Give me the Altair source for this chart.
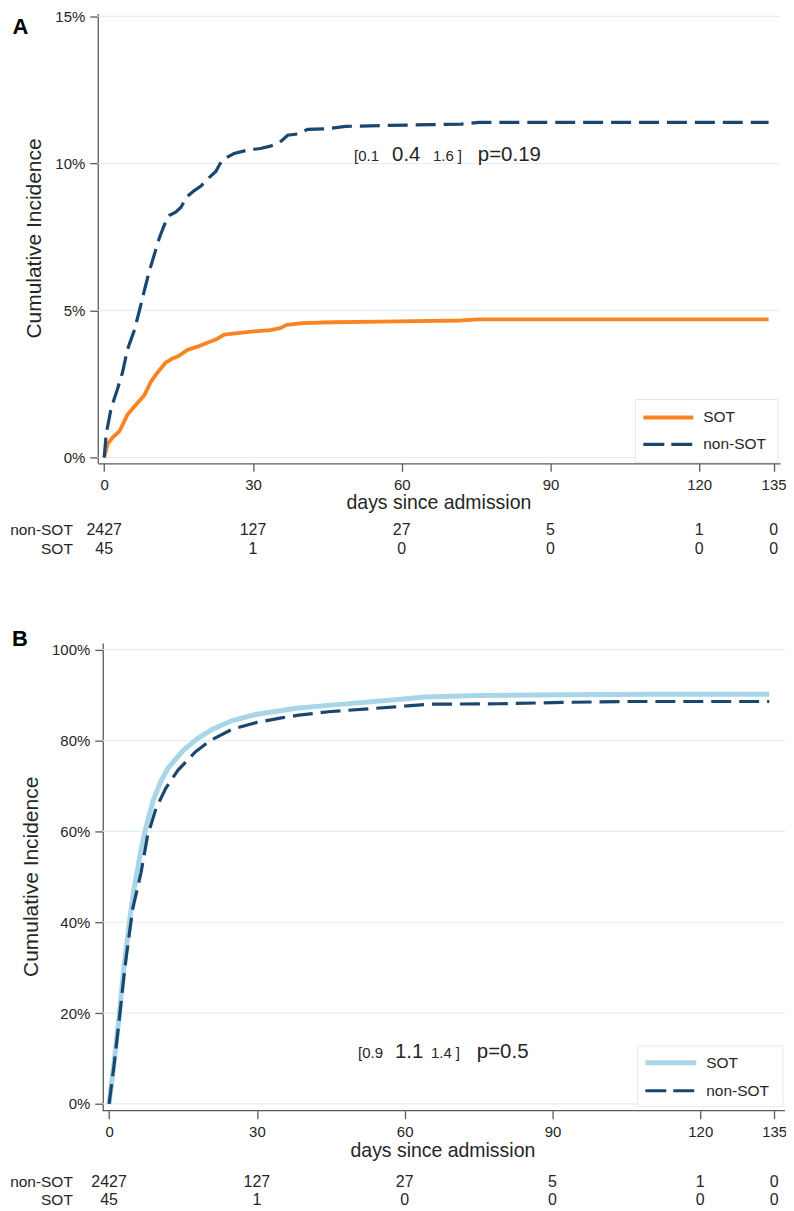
import altair as alt
import pandas as pd

FONT = "Liberation Sans"
TXT = "#262626"
AXC = "#5a5a5a"
GRID = "#e3eef2"
NAVY = "#1a476f"
ORANGE = "#fb8420"
LTBLUE = "#a8d6e8"

# ---------------- data ----------------
# Panel A (cumulative incidence, %)
a_non_days = [0, 0.4, 1.4, 2.7, 3.7, 4.7, 6.1, 7.1, 8.1, 9.1, 10.1, 11.1, 12.1, 13.1,
              14.4, 15.5, 16.5, 18.1, 19.5, 20.8, 22.5, 23.8, 26.2, 29, 31.5, 33.5,
              35.3, 37, 39.3, 41, 44.7, 48.7, 56, 66, 72, 75.6, 134]
a_non_pct = [0, 0.8, 1.68, 2.34, 2.9, 3.68, 4.34, 5.0, 5.68, 6.34, 6.9, 7.46, 7.9, 8.23,
             8.34, 8.51, 8.84, 9.07, 9.23, 9.46, 9.73, 10.12, 10.34, 10.46, 10.51, 10.59,
             10.7, 10.96, 11.01, 11.16, 11.18, 11.26, 11.29, 11.32, 11.34, 11.4, 11.4]
a_sot_days = [0, 0.7, 1.7, 3.1, 4.7, 6.4, 8.1, 9.4, 10.8, 12.4, 13.8, 15.1, 16.8, 18.8,
              20.8, 22.5, 24.2, 26.9, 30.2, 33.5, 35.5, 36.8, 40, 46, 56, 72, 75.6, 134]
a_sot_pct = [0, 0.46, 0.68, 0.9, 1.46, 1.79, 2.12, 2.57, 2.9, 3.23, 3.37, 3.46, 3.66, 3.77,
             3.9, 4.01, 4.18, 4.23, 4.29, 4.33, 4.4, 4.51, 4.57, 4.6, 4.62, 4.66, 4.7, 4.7]

# Panel B
b_sot_days = [0, 1, 2, 3, 4, 5, 6.5, 7.5, 9, 10.5, 12, 15, 18, 21, 25, 30, 38, 45, 58,
              64, 75, 92, 110, 134]
b_sot_pct = [0, 9, 19, 30, 39, 47, 56, 61, 67, 71, 74, 77.8, 80.5, 82.5, 84.4, 85.8, 87.1,
             87.8, 89.0, 89.6, 89.9, 90.1, 90.2, 90.2]
b_non_days = [0, 1, 2, 3, 3.5, 4.8, 6.5, 7.8, 9.5, 11.5, 14, 17.5, 20.5, 25, 30, 35, 38.5,
              45, 58, 65, 79, 92, 105, 134]
b_non_pct = [0, 8.5, 18, 28, 32.5, 43, 51, 59, 65, 69.5, 73.5, 77.5, 80, 82.5, 84, 85, 85.6,
             86.4, 87.4, 88, 88.1, 88.4, 88.6, 88.6]

# number at risk
risk_days = [0, 30, 60, 90, 120, 135]
risk_non = [2427, 127, 27, 5, 1, 0]
risk_sot = [45, 1, 0, 0, 0, 0]

x_ticks = [0, 30, 60, 90, 120, 135]
a_y_ticks = [0, 5, 10, 15]
b_y_ticks = [0, 20, 40, 60, 80, 100]

a_annot = ["[0.1", "0.4", "1.6 ]", "p=0.19"]
b_annot = ["[0.9", "1.1", "1.4 ]", "p=0.5"]

one = pd.DataFrame({"k": [0]})


def panel(letter, width, height, xdom, ydom, y_ticks, sot_days, sot_pct, sot_color,
          sot_width, non_days, non_pct, yoff, annot, annot_x, annot_y, leg, risk_y,
          risk_lab_x, ytitle_x, xtitle_xy, letter_xy, manual_xdomain):
    xs = alt.Scale(domain=xdom, nice=False, zero=False)
    ys = alt.Scale(domain=ydom, nice=False, zero=False)
    gx0 = -yoff
    xaxis = alt.Axis(values=x_ticks, title=None, grid=False, domain=not manual_xdomain,
                     domainColor=AXC, domainWidth=1.3, tickColor=AXC, tickWidth=1.3,
                     tickSize=8, labelPadding=6, labelFont=FONT, labelFontSize=15,
                     labelColor=TXT, labelFlush=False)
    yaxis = alt.Axis(values=y_ticks, title=None, grid=False, domainColor=AXC,
                     domainWidth=1.3, tickColor=AXC, tickWidth=1.3, tickSize=8,
                     labelPadding=5, labelFont=FONT, labelFontSize=15, labelColor=TXT,
                     labelExpr="datum.value + '%'", offset=yoff, labelFlush=False)

    X = lambda f: alt.X(f, scale=xs, axis=xaxis)
    Y = lambda f: alt.Y(f, scale=ys, axis=yaxis)

    sot_df = pd.DataFrame({"day": sot_days, "pct": sot_pct})
    non_df = pd.DataFrame({"day": non_days, "pct": non_pct})

    grid = alt.Chart(pd.DataFrame({"v": y_ticks})).mark_rule(
        color=GRID, strokeWidth=1.2).encode(
        y=Y("v:Q"), x=alt.value(gx0), x2=alt.value(width))

    sot_line = alt.Chart(sot_df).mark_line(
        color=sot_color, strokeWidth=sot_width, strokeJoin="round").encode(
        x=X("day:Q"), y=Y("pct:Q"))
    non_line = alt.Chart(non_df).mark_line(
        color=NAVY, strokeWidth=3.2, strokeDash=[20, 8], strokeCap="butt").encode(
        x=X("day:Q"), y=Y("pct:Q"))

    layers = [grid]
    if manual_xdomain:
        layers.append(alt.Chart(one).mark_rule(color=AXC, strokeWidth=1.3).encode(
            x=alt.value(gx0), x2=alt.value(width), y=alt.value(height)))
    layers += [sot_line, non_line]

    # annotation with mixed sizes
    sizes = [15, 20.5, 15, 20.5]
    for t, xx, s in zip(annot, annot_x, sizes):
        layers.append(alt.Chart(one).mark_text(
            text=t, font=FONT, fontSize=s, color=TXT, align="left",
            baseline="alphabetic").encode(x=alt.value(xx), y=alt.value(annot_y)))

    # legend
    bx0, by0, bx1, by1, ly1, ly2, lx0, lx1, tx = leg
    layers.append(alt.Chart(one).mark_rect(
        fill="white", stroke="#e2eaee", strokeWidth=1).encode(
        x=alt.value(bx0), x2=alt.value(bx1), y=alt.value(by0), y2=alt.value(by1)))
    layers.append(alt.Chart(one).mark_rule(
        color=sot_color, strokeWidth=sot_width, strokeCap="butt").encode(
        x=alt.value(lx0), x2=alt.value(lx1), y=alt.value(ly1)))
    layers.append(alt.Chart(one).mark_rule(
        color=NAVY, strokeWidth=3.2, strokeDash=[21, 7], strokeCap="butt").encode(
        x=alt.value(lx0), x2=alt.value(lx1), y=alt.value(ly2)))
    for t, yy in (("SOT", ly1), ("non-SOT", ly2)):
        layers.append(alt.Chart(one).mark_text(
            text=t, font=FONT, fontSize=15.5, color=TXT, align="left",
            baseline="middle").encode(x=alt.value(tx), y=alt.value(yy)))

    # number at risk table
    rdf = pd.DataFrame({"day": risk_days,
                        "non": [str(v) for v in risk_non],
                        "sot": [str(v) for v in risk_sot]})
    for col, yy in (("non", risk_y[0]), ("sot", risk_y[1])):
        layers.append(alt.Chart(rdf).mark_text(
            font=FONT, fontSize=16, color=TXT, align="center", baseline="middle").encode(
            x=X("day:Q"), y=alt.value(yy), text=alt.Text(f"{col}:N")))
    for t, yy in (("non-SOT", risk_y[0]), ("SOT", risk_y[1])):
        layers.append(alt.Chart(one).mark_text(
            text=t, font=FONT, fontSize=15.5, color=TXT, align="right",
            baseline="middle").encode(x=alt.value(risk_lab_x), y=alt.value(yy)))

    # axis titles
    layers.append(alt.Chart(one).mark_text(
        text="Cumulative Incidence", font=FONT, fontSize=21, color=TXT, angle=270,
        align="center", baseline="middle").encode(
        x=alt.value(ytitle_x), y=alt.value(height / 2)))
    layers.append(alt.Chart(one).mark_text(
        text="days since admission", font=FONT, fontSize=19.5, color=TXT,
        align="center", baseline="middle").encode(
        x=alt.value(xtitle_xy[0]), y=alt.value(xtitle_xy[1])))
    # panel letter
    layers.append(alt.Chart(one).mark_text(
        text=letter, font=FONT, fontSize=22, fontWeight="bold", color="black",
        align="center", baseline="middle").encode(
        x=alt.value(letter_xy[0]), y=alt.value(letter_xy[1])))

    return alt.layer(*layers).properties(width=width, height=height)


A = panel("A", 684, 451, [-1.3, 136.3], [-0.2, 15.1], a_y_ticks,
          a_sot_days, a_sot_pct, ORANGE, 3.8, a_non_days, a_non_pct, 0,
          a_annot, [257, 295, 336, 381], 148,
          (539, 387, 682, 450, 405, 432, 547, 597, 607),
          (518, 537), -25, -63, (342, 491), (-77.5, 14), False)

B = panel("B", 689, 469, [-2.3, 137.2], [-1.5, 101.5], b_y_ticks,
          b_sot_days, b_sot_pct, LTBLUE, 5, b_non_days, b_non_pct, -5,
          b_annot, [261, 298, 334, 380], 416,
          (541, 404, 687, 465, 421, 449, 549, 600, 610),
          (540, 559), -25, -66, (346, 509), (-78, -4), True)

chart = alt.vconcat(A, B, spacing=180, bounds="flush").properties(
    autosize=alt.AutoSizeParams(type="none"),
    padding={"left": 90, "top": 4, "right": 690, "bottom": 1196},
).configure_view(strokeWidth=0)

chart.save("out.html", embed_options={"renderer": "svg", "actions": False})
